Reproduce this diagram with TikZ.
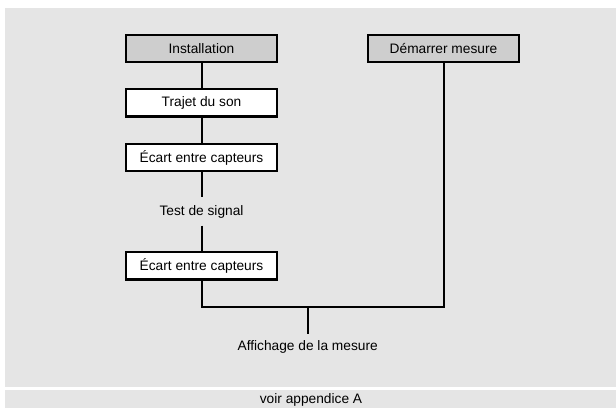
\documentclass[tikz,border=0pt]{standalone}
\usepackage{fontspec}
\setmainfont{Liberation Sans}
\definecolor{panelgrey}{RGB}{229,229,229}
\definecolor{boxgrey}{RGB}{206,206,206}
\tikzset{
  stepbox/.style={draw=black, line width=1.6pt, fill=white, minimum width=113pt, minimum height=20.5pt, inner sep=0pt, font=\fontsize{10.3}{12}\selectfont},
  greybox/.style={stepbox, fill=boxgrey},
  plaintext/.style={inner sep=0pt, minimum height=20.7pt, font=\fontsize{10.3}{12}\selectfont},
  link/.style={draw=black, line width=1.5pt}
}
\begin{document}
\begin{tikzpicture}[x=0.75pt, y=-0.75pt]
\useasboundingbox (0,0) rectangle (616,408); %Fixes the picture size
\fill[panelgrey] (4.5,8) rectangle (616,387); %Main panel
\fill[panelgrey] (4.5,389.5) rectangle (616,408); %Footer panel
% left column
\node[greybox] (inst) at (201.5,48.3) {Installation};
\node[stepbox] (trajet) at (201.5,102.8) {Trajet du son};
\node[stepbox] (ecartA) at (201.5,157.5) {Écart entre capteurs};
\node[plaintext] (test) at (201.5,211.5) {Test de signal};
\node[stepbox] (ecartB) at (201.5,265.8) {Écart entre capteurs};
% right column
\node[greybox] (start) at (443.5,48.3) {Démarrer mesure};
% result
\node[plaintext, minimum height=19pt] (aff) at (307.7,347) {Affichage de la mesure};
\coordinate (join) at (307.7,306.7);
\node[plaintext, minimum height=0pt] (foot) at (311,400.3) {voir appendice A};
% connectors
\draw[link] (inst) -- (trajet);
\draw[link] (trajet) -- (ecartA);
\draw[link] (ecartA) -- (test);
\draw[link] (test) -- (ecartB);
\draw[link] (ecartB.south) |- (join) -| (start.south);
\draw[link] (join) -- (aff.north);
\end{tikzpicture}
\end{document}
